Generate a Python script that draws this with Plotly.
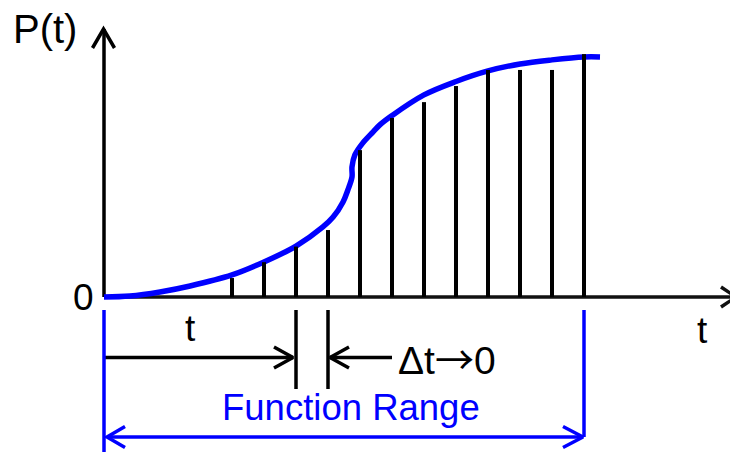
import plotly.graph_objects as go

# ---- data (t in units of the sample step, P in arbitrary units) ----
curve_t = [0, 0.81, 1.75, 2.69, 4, 5, 6, 6.84, 7.16, 7.47, 7.62, 7.75, 7.75, 7.84, 8.09, 8.41, 8.62, 9, 10, 11, 12, 13, 14, 15, 15.5]
curve_p = [0, 0.04, 0.21, 0.46, 0.92, 1.46, 2.12, 2.92, 3.33, 3.96, 4.46, 5.0, 5.42, 5.92, 6.42, 6.88, 7.17, 7.56, 8.42, 8.98, 9.42, 9.71, 9.88, 10.0, 10.0]
stick_t = [4, 5, 6, 7, 8, 9, 10, 11, 12, 13, 14, 15]
stick_p = [0.79, 1.45, 2.1, 2.79, 6.12, 7.46, 8.12, 8.79, 9.46, 9.46, 9.46, 10.12]
t_now = 6          # the "t" marker
dt_end = 7         # t + Δt
range_end = 15     # end of function range

# ---- pixel <-> data helpers for decoration geometry (window pixels) ----
WIN_W, WIN_H = 738, 452
PAGE_MARGIN = 8                       # default body margin of the html page
W, H = WIN_W - PAGE_MARGIN, WIN_H - PAGE_MARGIN
OX, OY = 104, 297      # origin in window pixels
SX, SY = 32.0, 24.0    # pixels per unit

def X(px):
    return (px - OX) / SX

def Y(py):
    return (OY - py) / SY

def PX(t):
    return OX + t * SX

BLACK = "#000000"
BLUE = "#0000ff"

fig = go.Figure()

def seg(xs, ys, color, width):
    fig.add_trace(go.Scatter(x=xs, y=ys, mode="lines", line=dict(color=color, width=width),
                             hoverinfo="skip", showlegend=False, cliponaxis=False))

def chevron(tip_px, tip_py, direction, color, width, ax=19, ay=10.5):
    if direction == "right":
        xs = [tip_px - ax, tip_px, tip_px - ax]
        ys = [tip_py - ay, tip_py, tip_py + ay]
    elif direction == "left":
        xs = [tip_px + ax, tip_px, tip_px + ax]
        ys = [tip_py - ay, tip_py, tip_py + ay]
    else:  # up
        xs = [tip_px - ay, tip_px, tip_px + ay]
        ys = [tip_py + ax, tip_py, tip_py + ax]
    seg([X(v) for v in xs], [Y(v) for v in ys], color, width)

# axes
seg([0, X(735)], [0, 0], "#111111", 3.5)
chevron(736, OY, "right", "#111111", 3.5, ax=15, ay=10)
seg([0, 0], [0, Y(29)], BLACK, 3.5)
chevron(OX - 0.5, 29, "up", BLACK, 3.5, ax=19, ay=11)

# curve
fig.add_trace(go.Scatter(x=curve_t, y=curve_p, mode="lines",
                         line=dict(color=BLUE, width=5.5, shape="spline", smoothing=1.0),
                         hoverinfo="skip", showlegend=False))

# sticks
sx, sy = [], []
for t, p in zip(stick_t, stick_p):
    sx += [t, t, None]
    sy += [0, p, None]
fig.add_trace(go.Scatter(x=sx, y=sy, mode="lines", line=dict(color=BLACK, width=4),
                         hoverinfo="skip", showlegend=False))

# t / Δt dimension lines
for tt in (t_now, dt_end):
    seg([tt, tt], [Y(310), Y(389)], BLACK, 3.5)
seg([0, X(PX(t_now) - 3)], [Y(357.5), Y(357.5)], BLACK, 3.5)
chevron(PX(t_now) - 3, 357.5, "right", BLACK, 3.5, ax=19, ay=10.5)
seg([X(PX(dt_end) + 2), X(392)], [Y(357.5), Y(357.5)], BLACK, 3.5)
chevron(PX(dt_end) + 2, 357.5, "left", BLACK, 3.5, ax=19, ay=10.5)

# function range
seg([0, 0], [Y(310), Y(WIN_H + 2)], BLUE, 3.5)
seg([range_end, range_end], [Y(310), Y(437)], BLUE, 3.5)
seg([X(PX(0) + 3), X(PX(range_end) - 1)], [Y(437), Y(437)], BLUE, 3.5)
chevron(PX(0) + 3, 437, "left", BLUE, 3.5, ax=18, ay=10.5)
chevron(PX(range_end) - 1, 437, "right", BLUE, 3.5, ax=20, ay=10.5)

FONT = "Liberation Sans, Arial, sans-serif"

def label(text, cx, cy, size, color=BLACK):
    fig.add_annotation(x=X(cx), y=Y(cy), text=text, showarrow=False,
                       xanchor="center", yanchor="middle",
                       font=dict(family=FONT, size=size, color=color))

label("P(t)", 45, 29, 40)
label("0", 83, 297, 37)
label("t", 702, 330, 37)
label("t", 190, 328, 37)
label("Δt<span style='font-family:Noto Sans CJK JP'>→</span>0", 447, 357, 39)
label("Function Range", 351, 407, 36.5, BLUE)

fig.update_layout(
    width=W, height=H,
    margin=dict(l=0, r=0, t=0, b=0),
    paper_bgcolor="white", plot_bgcolor="white",
    xaxis=dict(range=[X(PAGE_MARGIN), X(WIN_W)], visible=False, fixedrange=True),
    yaxis=dict(range=[Y(WIN_H), Y(PAGE_MARGIN)], visible=False, fixedrange=True),
    showlegend=False,
)

fig.write_html("out.html")
